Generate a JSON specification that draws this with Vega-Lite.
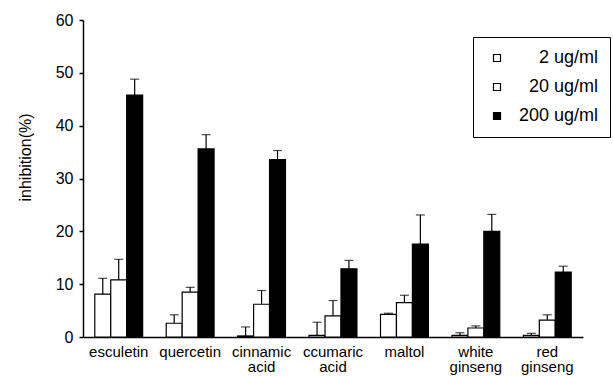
{
  "$schema": "https://vega.github.io/schema/vega-lite/v6.json",
  "autosize": {"type": "none"},
  "width": 500,
  "height": 317,
  "padding": {"left": 83, "top": 20, "right": 30, "bottom": 39},
  "background": "white",
  "config": {
    "font": "Liberation Sans",
    "view": {"stroke": null},
    "axis": {"domainColor": "black", "domainWidth": 1.5, "tickColor": "black", "labelColor": "black", "titleColor": "black", "grid": false}
  },
  "data": {
    "values": [
      {"compound": "esculetin", "dose": "2 ug/ml", "value": 8.1, "err": 11.1},
      {"compound": "esculetin", "dose": "20 ug/ml", "value": 10.8, "err": 14.7},
      {"compound": "esculetin", "dose": "200 ug/ml", "value": 45.8, "err": 48.8},
      {"compound": "quercetin", "dose": "2 ug/ml", "value": 2.6, "err": 4.2},
      {"compound": "quercetin", "dose": "20 ug/ml", "value": 8.5, "err": 9.4},
      {"compound": "quercetin", "dose": "200 ug/ml", "value": 35.6, "err": 38.3},
      {"compound": "cinnamic acid", "dose": "2 ug/ml", "value": 0.2, "err": 1.9},
      {"compound": "cinnamic acid", "dose": "20 ug/ml", "value": 6.2, "err": 8.8},
      {"compound": "cinnamic acid", "dose": "200 ug/ml", "value": 33.6, "err": 35.3},
      {"compound": "ccumaric acid", "dose": "2 ug/ml", "value": 0.3, "err": 2.8},
      {"compound": "ccumaric acid", "dose": "20 ug/ml", "value": 4.0, "err": 6.9},
      {"compound": "ccumaric acid", "dose": "200 ug/ml", "value": 12.9, "err": 14.5},
      {"compound": "maltol", "dose": "2 ug/ml", "value": 4.3, "err": 4.5},
      {"compound": "maltol", "dose": "20 ug/ml", "value": 6.5, "err": 7.9},
      {"compound": "maltol", "dose": "200 ug/ml", "value": 17.6, "err": 23.1},
      {"compound": "white ginseng", "dose": "2 ug/ml", "value": 0.3, "err": 0.8},
      {"compound": "white ginseng", "dose": "20 ug/ml", "value": 1.7, "err": 2.1},
      {"compound": "white ginseng", "dose": "200 ug/ml", "value": 20.0, "err": 23.2},
      {"compound": "red ginseng", "dose": "2 ug/ml", "value": 0.3, "err": 0.7},
      {"compound": "red ginseng", "dose": "20 ug/ml", "value": 3.2, "err": 4.2},
      {"compound": "red ginseng", "dose": "200 ug/ml", "value": 12.3, "err": 13.4}
    ]
  },
  "encoding": {
    "x": {
      "field": "compound", "type": "nominal", "sort": null,
      "scale": {"paddingInner": 0.33, "paddingOuter": 0.165},
      "axis": {"title": null, "ticks": false, "labelAngle": 0, "labelFontSize": 15, "labelPadding": 7, "labelLineHeight": 15, "labelExpr": "split(datum.label, ' ')"}
    },
    "xOffset": {"field": "dose", "type": "nominal", "sort": ["2 ug/ml", "20 ug/ml", "200 ug/ml"], "scale": {"paddingInner": 0, "paddingOuter": 0}}
  },
  "layer": [
    {
      "mark": {"type": "bar", "stroke": "black", "strokeWidth": 1.2},
      "encoding": {
        "y": {
          "field": "value", "type": "quantitative",
          "scale": {"domain": [0, 60], "nice": false},
          "axis": {"title": "inhibition(%)", "values": [0, 10, 20, 30, 40, 50, 60], "tickSize": 4, "tickWidth": 1.5, "labelFontSize": 16, "labelPadding": 6, "titleFontSize": 16, "titleFontWeight": "normal", "titleX": -58, "titleY": 137, "titleBaseline": "middle", "titleAngle": -90}
        },
        "fill": {
          "field": "dose", "type": "nominal", "sort": ["2 ug/ml", "20 ug/ml", "200 ug/ml"],
          "scale": {"range": ["white", "white", "black"]},
          "legend": {"title": null, "orient": "none", "legendX": 390, "legendY": 17, "strokeColor": "black", "padding": 12, "labelFontSize": 18, "labelAlign": "right", "labelOffset": 92, "rowPadding": 11, "symbolType": "square", "symbolSize": 49, "symbolStrokeColor": "black", "symbolStrokeWidth": 1.2, "symbolOffset": 3, "labelColor": "black"}
        }
      }
    },
    {
      "mark": {"type": "rule", "color": "black", "strokeWidth": 1.2},
      "encoding": {
        "y": {"field": "value", "type": "quantitative"},
        "y2": {"field": "err"}
      }
    },
    {
      "mark": {"type": "tick", "color": "black", "size": 9, "thickness": 1.2},
      "encoding": {
        "y": {"field": "err", "type": "quantitative"}
      }
    }
  ]
}
